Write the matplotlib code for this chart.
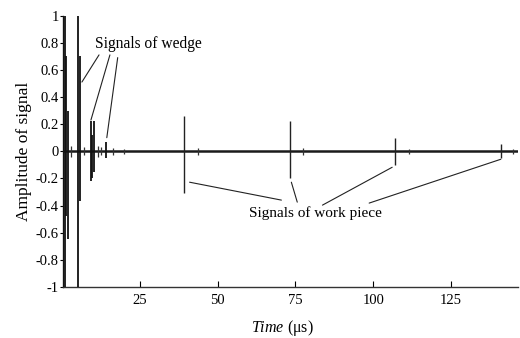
import matplotlib
matplotlib.use("Agg")
import matplotlib.pyplot as plt

# strong echoes from the wedge (time in us, positive and negative peaks)
wedge_t = [0.4, 0.9, 1.4, 2.0, 5.1, 5.7, 9.3, 9.8, 10.3, 14.3]
wedge_hi = [1.0, 1.0, 0.7, 0.3, 1.0, 0.7, 0.22, 0.12, 0.22, 0.07]
wedge_lo = [-1.0, -1.0, -0.48, -0.65, -1.0, -0.37, -0.22, -0.2, -0.15, -0.05]

# echoes from the work piece
piece_t = [39.1, 73.2, 107.0, 141.0]
piece_hi = [0.26, 0.22, 0.10, 0.05]
piece_lo = [-0.31, -0.20, -0.10, -0.05]

# small ripples on the base line
blip_t = [3.0, 7.0, 11.5, 12.5, 16.5, 20.0, 43.6, 77.5, 111.5, 145.0]
blip_a = [0.04, 0.03, 0.04, 0.03, 0.025, 0.02, 0.025, 0.025, 0.02, 0.02]

y_ticks = [-1, -0.8, -0.6, -0.4, -0.2, 0, 0.2, 0.4, 0.6, 0.8, 1]
y_tick_labels = ["-1", "-0.8", "-0.6", "-0.4", "-0.2", "0", "0.2", "0.4", "0.6", "0.8", "1"]
x_ticks = [25, 50, 75, 100, 125]

plt.rcParams["font.family"] = ["Liberation Serif", "DejaVu Serif"]
plt.rcParams["mathtext.fontset"] = "custom"
plt.rcParams["mathtext.rm"] = "Liberation Serif"
plt.rcParams["mathtext.it"] = "Liberation Serif:italic"

fig = plt.figure(figsize=(5.2, 3.38), dpi=100)
ax = fig.add_axes([0.121, 0.151, 0.875, 0.803])
ax.set_xlim(0.3, 146.5)
ax.set_ylim(-1, 1)

ax.hlines(0, 0.3, 146.5, color="#1a1a1a", lw=1.8, zorder=2)
ax.vlines(wedge_t, wedge_lo, wedge_hi, color="#111111", lw=1.3, zorder=3)
ax.vlines(piece_t, piece_lo, piece_hi, color="#222222", lw=1.0, zorder=3)
ax.vlines(blip_t, [-a for a in blip_a], blip_a, color="#333333", lw=0.9, zorder=3)

ax.spines["top"].set_visible(False)
ax.spines["right"].set_visible(False)
for s in ("left", "bottom"):
    ax.spines[s].set_color("#333333")
    ax.spines[s].set_linewidth(1.0)

ax.set_yticks(y_ticks)
ax.set_yticklabels(y_tick_labels)
ax.set_xticks(x_ticks)
ax.tick_params(axis="x", direction="in", length=4, pad=5, labelsize=10.5)
ax.tick_params(axis="y", direction="out", length=2, pad=1, labelsize=10.5)

ax.set_ylabel("Amplitude of signal", fontsize=12.5, labelpad=3)
ax.set_xlabel(r"$\mathit{Time}$ (μs)", fontsize=11.5)
ax.xaxis.set_label_coords(0.482, -0.115)

line = dict(arrowstyle="-", color="#222222", lw=0.8, shrinkA=0, shrinkB=0)
wedge_ends = [(6.4, 0.51), (9.3, 0.23), (14.4, 0.10)]
wedge_starts = [(11.9, 0.71), (15.4, 0.71), (17.9, 0.69)]
for (x0, y0), (x1, y1) in zip(wedge_starts, wedge_ends):
    ax.annotate("", xy=(x1, y1), xytext=(x0, y0), arrowprops=line)
ax.text(10.6, 0.79, "Signals of wedge", fontsize=11.2, va="center", ha="left")

piece_ends = [(41.0, -0.228), (73.7, -0.228), (106.1, -0.118), (141.0, -0.059)]
piece_starts = [(70.5, -0.36), (75.6, -0.375), (83.7, -0.397), (98.7, -0.382)]
for (x0, y0), (x1, y1) in zip(piece_starts, piece_ends):
    ax.annotate("", xy=(x1, y1), xytext=(x0, y0), arrowprops=line)
ax.text(81.4, -0.456, "Signals of work piece", fontsize=11, va="center", ha="center")

fig.savefig("out.png", dpi=100)
